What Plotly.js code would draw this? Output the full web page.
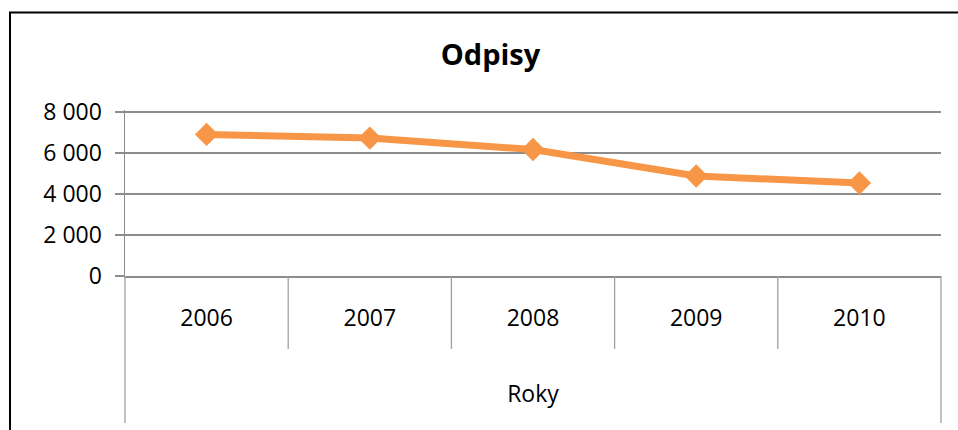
<!DOCTYPE html>
<html>
<head>
<meta charset="utf-8">
<script src="https://cdn.plot.ly/plotly-3.0.1.min.js"></script>
<style>html,body{margin:0;padding:0;background:#fff;}#chart{width:958px;height:430px;}</style>
</head>
<body>
<div id="chart"></div>
<script>
const years = ['2006', '2007', '2008', '2009', '2010'];
const odpisy = [6910, 6730, 6170, 4880, 4540];
const yTicks = [0, 2000, 4000, 6000, 8000];
const chartTitle = 'Odpisy';
const xTitle = 'Roky';

const W = 958, H = 430;
const M = {l: 125, r: 17, t: 110, b: 154};
const pw = W - M.l - M.r, ph = H - M.t - M.b;
const px2x = p => (p - M.l) / pw;
const py2y = p => (H - M.b - p) / ph;

const shapes = [];
// separators below the category axis
for (let i = 0; i <= years.length; i++) {
  const edge = (i === 0 || i === years.length);
  shapes.push({type: 'line', xref: 'paper', yref: 'paper',
    x0: i / years.length, x1: i / years.length,
    y0: 0, y1: py2y(edge ? 423 : 349),
    line: {color: '#a0a0a0', width: 1.3}, layer: 'above'});
}
// outer chart frame (left and top visible)
shapes.push({type: 'rect', xref: 'paper', yref: 'paper',
  x0: px2x(10), x1: px2x(1200), y0: py2y(12.5), y1: py2y(800),
  line: {color: '#000000', width: 2}, fillcolor: 'rgba(0,0,0,0)'});

const trace = {
  x: years, y: odpisy, type: 'scatter', mode: 'lines+markers',
  line: {color: '#F79646', width: 7},
  marker: {symbol: 'diamond', size: 18, color: '#F79646'},
  cliponaxis: false, hoverinfo: 'x+y'
};

const layout = {
  width: W, height: H,
  margin: M,
  paper_bgcolor: '#ffffff', plot_bgcolor: '#ffffff',
  showlegend: false,
  separators: ', ',
  font: {family: 'Open Sans, Noto Sans, sans-serif', color: '#000000', size: 23},
  title: {text: '<b>' + chartTitle + '</b>', font: {size: 29, color: '#000000', family: 'Open Sans, sans-serif'},
    x: 490.5 / W, xanchor: 'center', xref: 'container', y: 1 - 55 / H, yanchor: 'middle', yref: 'container'},
  xaxis: {
    type: 'category', categoryorder: 'array', categoryarray: years,
    range: [-0.5, years.length - 0.5],
    showgrid: false, zeroline: false,
    showline: true, linecolor: '#8c8c8c', linewidth: 1.5,
    ticks: '',
    ticklabelstandoff: 21,
    tickfont: {size: 23, color: '#000000'},
    title: {text: xTitle, font: {size: 23, color: '#000000'}, standoff: 54},
    fixedrange: true
  },
  yaxis: {
    range: [0, 8100], tickvals: yTicks, tickformat: ',d',
    showgrid: true, gridcolor: '#8c8c8c', gridwidth: 1.5,
    zeroline: false,
    showline: true, linecolor: '#8c8c8c', linewidth: 1.5,
    ticks: 'outside', ticklen: 9, tickcolor: '#8c8c8c', tickwidth: 1.5,
    ticklabelstandoff: 8,
    tickfont: {size: 23, color: '#000000'},
    fixedrange: true
  },
  shapes: shapes
};

Plotly.newPlot('chart', [trace], layout, {displayModeBar: false, staticPlot: true});
</script>
</body>
</html>
